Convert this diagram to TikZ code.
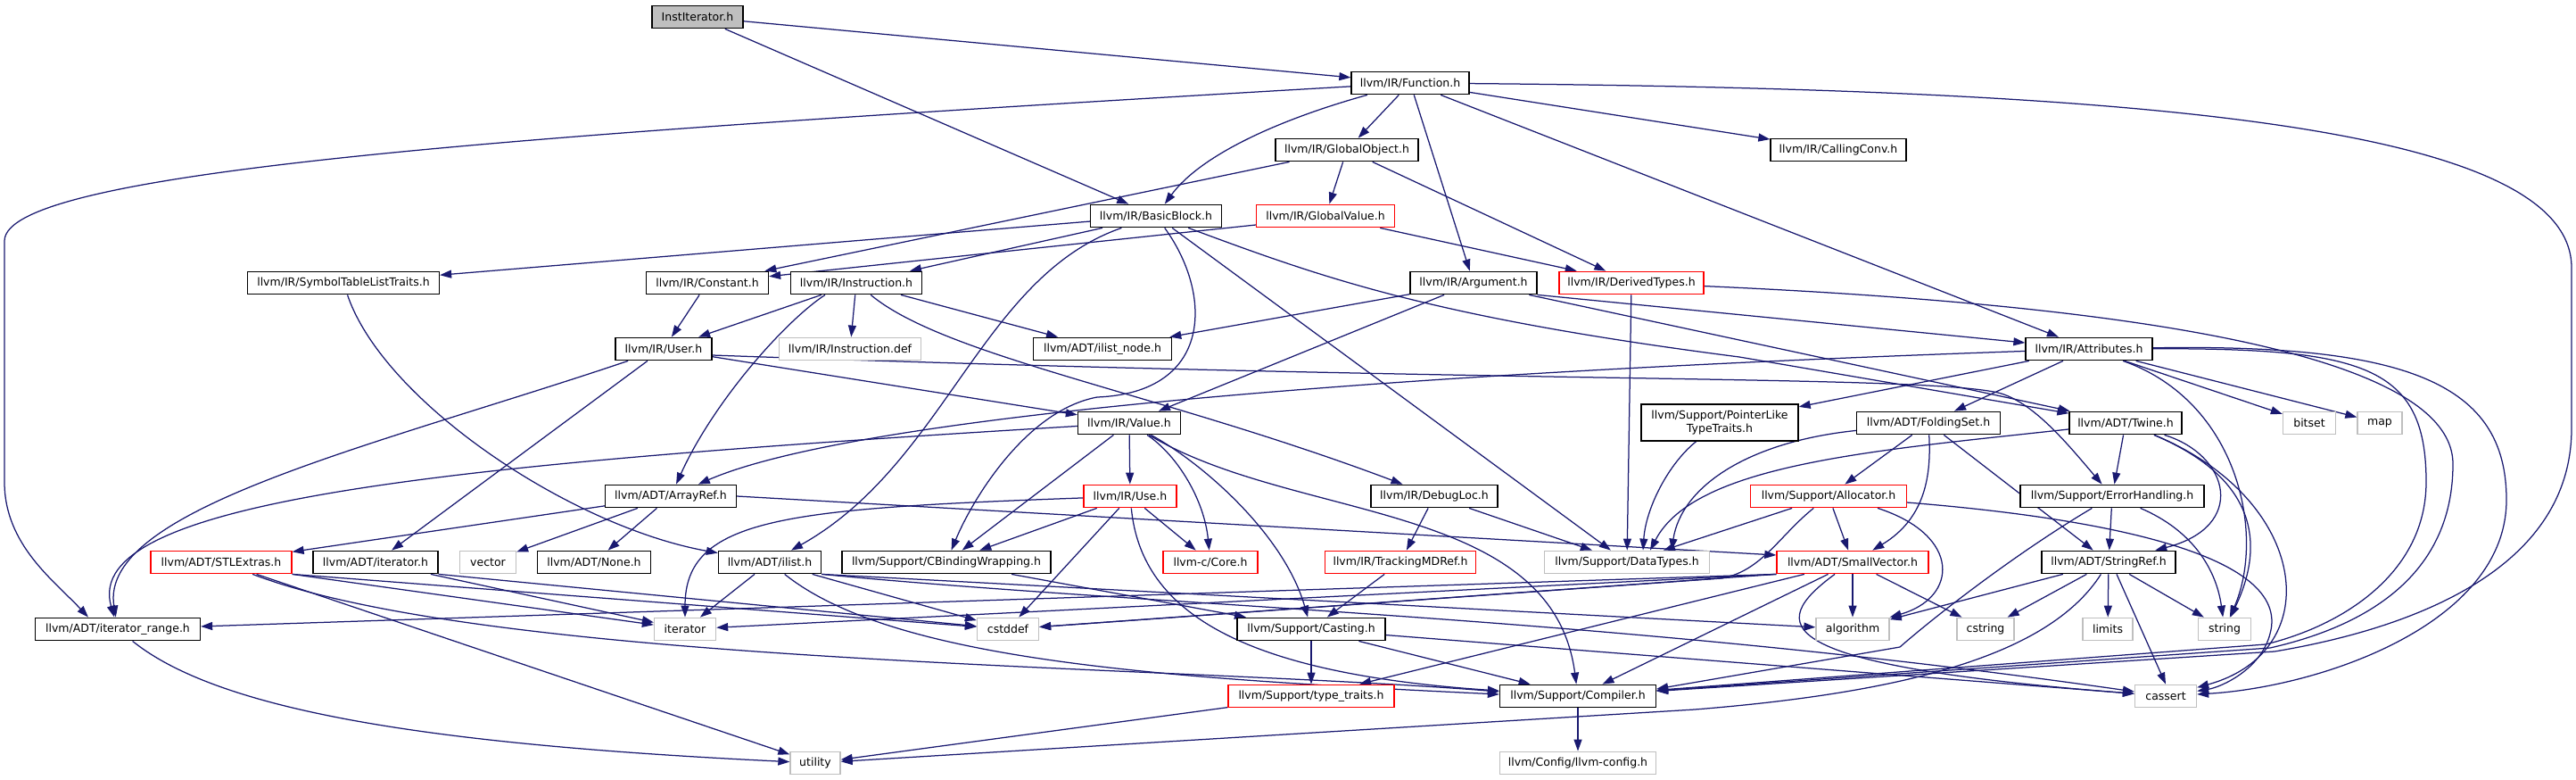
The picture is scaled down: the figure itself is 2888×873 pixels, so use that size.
\documentclass[tikz,border=0pt]{standalone}
\usepackage{fontspec}
\setmainfont{DejaVu Sans}
\usetikzlibrary{arrows.meta,calc,backgrounds}
\definecolor{edgeblue}{HTML}{191970}
\definecolor{nodegray}{HTML}{BFBFBF}
\definecolor{nodered}{HTML}{FF0000}
\newcommand\ndfont{\fontsize{12.5}{15.5}\selectfont}
\begin{document}
\begin{tikzpicture}[x=1pt,y=-1pt,
  nb/.style={draw=black,fill=white,line width=1.3pt,minimum height=25.5pt,inner sep=0pt,font=\ndfont,text=black},
  rb/.style={nb,draw=nodered},
  gb/.style={nb,draw=nodegray},
  rootb/.style={nb,fill=nodegray},
  ed/.style={draw=edgeblue,line width=1.25pt,-{Triangle[length=13pt,width=9pt]}},
]
\useasboundingbox (0,0) rectangle (2888,873);

\node[rootb,minimum width=102pt] (inst) at (782,19) {InstIterator.h};
\node[nb,minimum width=132pt] (func) at (1581,93) {llvm/IR/Function.h};
\node[nb,minimum width=160pt] (gobj) at (1510,168) {llvm/IR/GlobalObject.h};
\node[nb,minimum width=152pt] (cconv) at (2061,168) {llvm/IR/CallingConv.h};
\node[nb,minimum width=147pt] (bb) at (1296,242) {llvm/IR/BasicBlock.h};
\node[rb,minimum width=155pt] (gval) at (1486,242) {llvm/IR/GlobalValue.h};
\node[nb,minimum width=215pt] (stlt) at (385,317) {llvm/IR/SymbolTableListTraits.h};
\node[nb,minimum width=137pt] (const) at (793,317) {llvm/IR/Constant.h};
\node[nb,minimum width=147pt] (instr) at (960,317) {llvm/IR/Instruction.h};
\node[nb,minimum width=142pt] (arg) at (1652,317) {llvm/IR/Argument.h};
\node[rb,minimum width=162pt] (dtypes) at (1829,317) {llvm/IR/DerivedTypes.h};
\node[nb,minimum width=108pt] (user) at (744,391) {llvm/IR/User.h};
\node[gb,minimum width=159pt] (idef) at (953,391) {llvm/IR/Instruction.def};
\node[nb,minimum width=155pt] (inode) at (1236,391) {llvm/ADT/ilist\_node.h};
\node[nb,minimum width=142pt] (attr) at (2342,391) {llvm/IR/Attributes.h};
\node[nb,minimum width=115pt] (value) at (1266,474) {llvm/IR/Value.h};
\node[nb,minimum width=176pt,minimum height=41pt,align=center] (plt) at (1928,473.5) {llvm/Support/PointerLike\\TypeTraits.h};
\node[nb,minimum width=161pt] (fset) at (2162,474) {llvm/ADT/FoldingSet.h};
\node[nb,minimum width=126pt] (twine) at (2383,474) {llvm/ADT/Twine.h};
\node[gb,minimum width=59pt] (bitset) at (2589,474) {bitset};
\node[gb,minimum width=50pt] (map) at (2668,474) {map};
\node[nb,minimum width=147pt] (aref) at (752,556) {llvm/ADT/ArrayRef.h};
\node[rb,minimum width=104pt] (use) at (1267,556) {llvm/IR/Use.h};
\node[nb,minimum width=142pt] (dloc) at (1608,556) {llvm/IR/DebugLoc.h};
\node[rb,minimum width=175pt] (alloc) at (2050,556) {llvm/Support/Allocator.h};
\node[nb,minimum width=206pt] (errh) at (2368,556) {llvm/Support/ErrorHandling.h};
\node[rb,minimum width=158pt] (stlx) at (248,630) {llvm/ADT/STLExtras.h};
\node[nb,minimum width=140pt] (aiter) at (421,630) {llvm/ADT/iterator.h};
\node[gb,minimum width=63pt] (vector) at (547,630) {vector};
\node[nb,minimum width=127pt] (none) at (666,630) {llvm/ADT/None.h};
\node[nb,minimum width=115pt] (ilist) at (863,630) {llvm/ADT/ilist.h};
\node[nb,minimum width=234pt] (cbw) at (1061,630) {llvm/Support/CBindingWrapping.h};
\node[rb,minimum width=106pt] (core) at (1357,630) {llvm-c/Core.h};
\node[rb,minimum width=169pt] (tmd) at (1570,630) {llvm/IR/TrackingMDRef.h};
\node[gb,minimum width=185pt] (dtyp) at (1824,630) {llvm/Support/DataTypes.h};
\node[rb,minimum width=170pt] (svec) at (2077,630) {llvm/ADT/SmallVector.h};
\node[nb,minimum width=150pt] (sref) at (2364,630) {llvm/ADT/StringRef.h};
\node[nb,minimum width=185pt] (irange) at (132,705) {llvm/ADT/iterator\_range.h};
\node[gb,minimum width=69pt] (iter) at (768,705) {iterator};
\node[gb,minimum width=69pt] (cstddef) at (1130,705) {cstddef};
\node[nb,minimum width=166pt] (cast) at (1470,705) {llvm/Support/Casting.h};
\node[gb,minimum width=82pt] (algo) at (2077,705) {algorithm};
\node[gb,minimum width=64pt] (cstring) at (2226,705) {cstring};
\node[gb,minimum width=56pt] (limits) at (2363,705) {limits};
\node[gb,minimum width=59pt] (string) at (2494,705) {string};
\node[rb,minimum width=186pt] (ttraits) at (1470,780) {llvm/Support/type\_traits.h};
\node[nb,minimum width=175pt] (comp) at (1769,780) {llvm/Support/Compiler.h};
\node[gb,minimum width=69pt] (cassert) at (2428,780) {cassert};
\node[gb,minimum width=56pt] (utility) at (914,855) {utility};
\node[gb,minimum width=175pt] (cfg) at (1769,855) {llvm/Config/llvm-config.h};

\begin{pgfonlayer}{background}
% InstIterator.h
\draw[ed] (inst) -- (func);
\draw[ed] (inst) -- (bb);
% Function.h
\draw[ed] (func) .. controls (600,150) and (5,190) .. (5,270) -- (5,540) .. controls (5,610) and (60,650) .. ($(irange.north)+(-33,0)$);
\draw[ed] (func) .. controls (1430,135) and (1345,175) .. (bb);
\draw[ed] (func) -- (gobj);
\draw[ed] (func) -- (arg);
\draw[ed] (func) -- (cconv);
\draw[ed] (func) -- (attr);
\draw[ed] (func) .. controls (2400,100) and (2883,140) .. (2883,300) -- (2883,480) .. controls (2883,640) and (2700,705) .. (2550,730) -- (comp);
% GlobalObject.h / GlobalValue.h
\draw[ed] (gobj) -- (gval);
\draw[ed] (gobj) -- (dtypes);
\draw[ed] (gobj) -- (const);
\draw[ed] ($(gval.west)+(0,10)$) -- (const);
\draw[ed] (gval) -- (dtypes);
% BasicBlock.h
\draw[ed] (bb) -- (stlt);
\draw[ed] (bb) -- (instr);
\draw[ed] (bb) .. controls (1100,310) and (1060,520) .. (ilist);
\draw[ed] (bb) .. controls (1360,330) and (1360,440) .. (1230,445) .. controls (1150,460) and (1090,560) .. (cbw);
\draw[ed] (bb) -- (dtyp);
\draw[ed] (bb) .. controls (1480,310) and (1600,355) .. (1950,400) -- (twine);
% Instruction.h
\draw[ed] (instr) -- (user);
\draw[ed] ($(instr.south)+(-35,0)$) .. controls (880,360) and (800,450) .. (aref);
\draw[ed] (instr) -- (idef);
\draw[ed] (instr) .. controls (1060,400) and (1300,440) .. (dloc);
\draw[ed] (instr) -- (inode);
\draw[ed] (const) -- (user);
\draw[ed] (stlt) .. controls (430,450) and (640,590) .. (ilist);
% User.h
\draw[ed] (user) .. controls (420,500) and (110,570) .. (irange);
\draw[ed] (user) -- (aiter);
\draw[ed] (user) -- (value);
\draw[ed] ($(user.east)+(0,7)$) .. controls (1700,430) and (2150,420) .. (2240,440) .. controls (2280,450) and (2320,500) .. (errh);
% Argument.h
\draw[ed] (arg) -- (inode);
\draw[ed] (arg) -- (value);
\draw[ed] (arg.south east) -- (attr);
\draw[ed] (arg) -- (twine);
% DerivedTypes.h
\draw[ed] (dtypes) -- (dtyp);
\draw[ed] (dtypes) .. controls (2350,340) and (2750,390) .. (2750,520) .. controls (2750,640) and (2660,700) .. (2545,726) -- (comp);
% Attributes.h
\draw[ed] (attr) .. controls (1500,420) and (950,470) .. (aref);
\draw[ed] (attr) -- (plt);
\draw[ed] (attr) -- (fset);
\draw[ed] (attr) .. controls (2510,450) and (2540,600) .. (string);
\draw[ed] (attr) -- (bitset);
\draw[ed] (attr) -- (map);
\draw[ed] (attr) .. controls (2650,390) and (2720,410) .. (2720,540) .. controls (2720,640) and (2630,700) .. (2540,722) -- (comp);
\draw[ed] (attr) .. controls (2700,385) and (2810,430) .. (2810,560) .. controls (2810,700) and (2600,770) .. (cassert);
% Value.h
\draw[ed] (value) .. controls (500,520) and (90,560) .. (irange);
\draw[ed] (value) -- (cbw);
\draw[ed] (value) -- (use);
\draw[ed] (value) .. controls (1320,510) and (1350,560) .. (core);
\draw[ed] (value) .. controls (1350,520) and (1440,600) .. (cast);
\draw[ed] (value) .. controls (1450,585) and (1740,560) .. (comp);
% Use.h
\draw[ed] (use) .. controls (880,570) and (768,580) .. (iter);
\draw[ed] (use) -- (cbw);
\draw[ed] (use) -- (cstddef);
\draw[ed] (use) .. controls (1280,690) and (1400,755) .. (comp);
\draw[ed] (use) -- (core);
% DebugLoc.h etc.
\draw[ed] (dloc) -- (tmd);
\draw[ed] (dloc) -- (dtyp);
\draw[ed] (tmd) -- (cast);
\draw[ed] (cbw) -- (cast);
\draw[ed] (cast) -- (ttraits);
\draw[ed] (cast) -- (comp);
\draw[ed] (cast) -- (cassert);
\draw[ed] (ttraits) -- (utility);
\draw[ed] (comp) -- (cfg);
\draw[ed] (irange) .. controls (250,800) and (500,835) .. (utility);
% STLExtras.h, iterator.h
\draw[ed] (stlx) -- (utility);
\draw[ed] (stlx.south east) -- (iter);
\draw[ed] (stlx.south east) -- (cstddef);
\draw[ed] (stlx) .. controls (550,745) and (1300,745) .. ($(comp.west)+(0,-5)$);
\draw[ed] (aiter) -- (iter);
\draw[ed] (aiter.south east) -- (cstddef);
% ArrayRef.h
\draw[ed] (aref) -- (stlx);
\draw[ed] (aref) -- (vector);
\draw[ed] (aref) -- (none);
\draw[ed] (aref.east) -- ($(svec.west)+(0,-8)$);
% ilist.h
\draw[ed] (ilist) -- (iter);
\draw[ed] (ilist) -- (cstddef);
\draw[ed] (ilist.south east) -- (algo);
\draw[ed] (ilist.south east) .. controls (1300,680) and (1800,690) .. (cassert);
\draw[ed] (ilist) .. controls (1000,740) and (1300,760) .. ($(comp.west)+(0,-2)$);
% PointerLikeTypeTraits.h, FoldingSet.h
\draw[ed] (plt) .. controls (1870,520) and (1845,570) .. ($(dtyp.north)+(18,0)$);
\draw[ed] (fset) .. controls (1960,495) and (1885,545) .. ($(dtyp.north)+(50,0)$);
\draw[ed] (fset) -- (alloc);
\draw[ed] (fset) .. controls (2165,530) and (2160,580) .. (svec);
\draw[ed] (fset) -- (sref);
% Twine.h
\draw[ed] (twine) .. controls (2100,505) and (1900,520) .. ($(dtyp.north)+(26,0)$);
\draw[ed] (twine) -- (errh);
\draw[ed] (twine) .. controls (2500,510) and (2520,590) .. (sref);
\draw[ed] (twine) .. controls (2540,540) and (2535,620) .. (string);
\draw[ed] (twine) .. controls (2590,560) and (2610,730) .. (cassert);
% Allocator.h
\draw[ed] (alloc) -- (dtyp);
\draw[ed] (alloc) .. controls (1995,600) and (1975,640) .. (1930,648) -- (cstddef);
\draw[ed] (alloc) -- (svec);
\draw[ed] ($(alloc.south)+(55,0)$) .. controls (2200,600) and (2195,670) .. (algo.north east);
\draw[ed] (alloc) .. controls (2350,580) and (2570,620) .. (2545,710) .. controls (2535,750) and (2490,770) .. (cassert);
% SmallVector.h
\draw[ed] (svec.south west) -- (irange);
\draw[ed] (svec.south west) -- (iter);
\draw[ed] (svec.south west) -- (cstddef);
\draw[ed] (svec) -- (ttraits);
\draw[ed] (svec) -- (comp);
\draw[ed] ($(svec.south)+(-20,0)$) .. controls (1980,700) and (1980,745) .. (cassert);
\draw[ed] (svec) -- (algo);
\draw[ed] (svec) -- (cstring);
% ErrorHandling.h
\draw[ed] (errh) -- (sref);
\draw[ed] (errh) .. controls (2260,620) and (2170,690) .. (2130,725) -- ($(comp.east)+(0,-8)$);
\draw[ed] (errh) .. controls (2460,595) and (2485,640) .. (string);
% StringRef.h
\draw[ed] (sref) -- (algo);
\draw[ed] (sref) -- (cstring);
\draw[ed] (sref) -- (limits);
\draw[ed] ($(sref.south)+(9,0)$) -- (cassert.north);
\draw[ed] (sref) -- (string);
\draw[ed] (sref) .. controls (2300,730) and (2150,775) .. (1900,795) -- (utility);
\end{pgfonlayer}
\end{tikzpicture}
\end{document}
